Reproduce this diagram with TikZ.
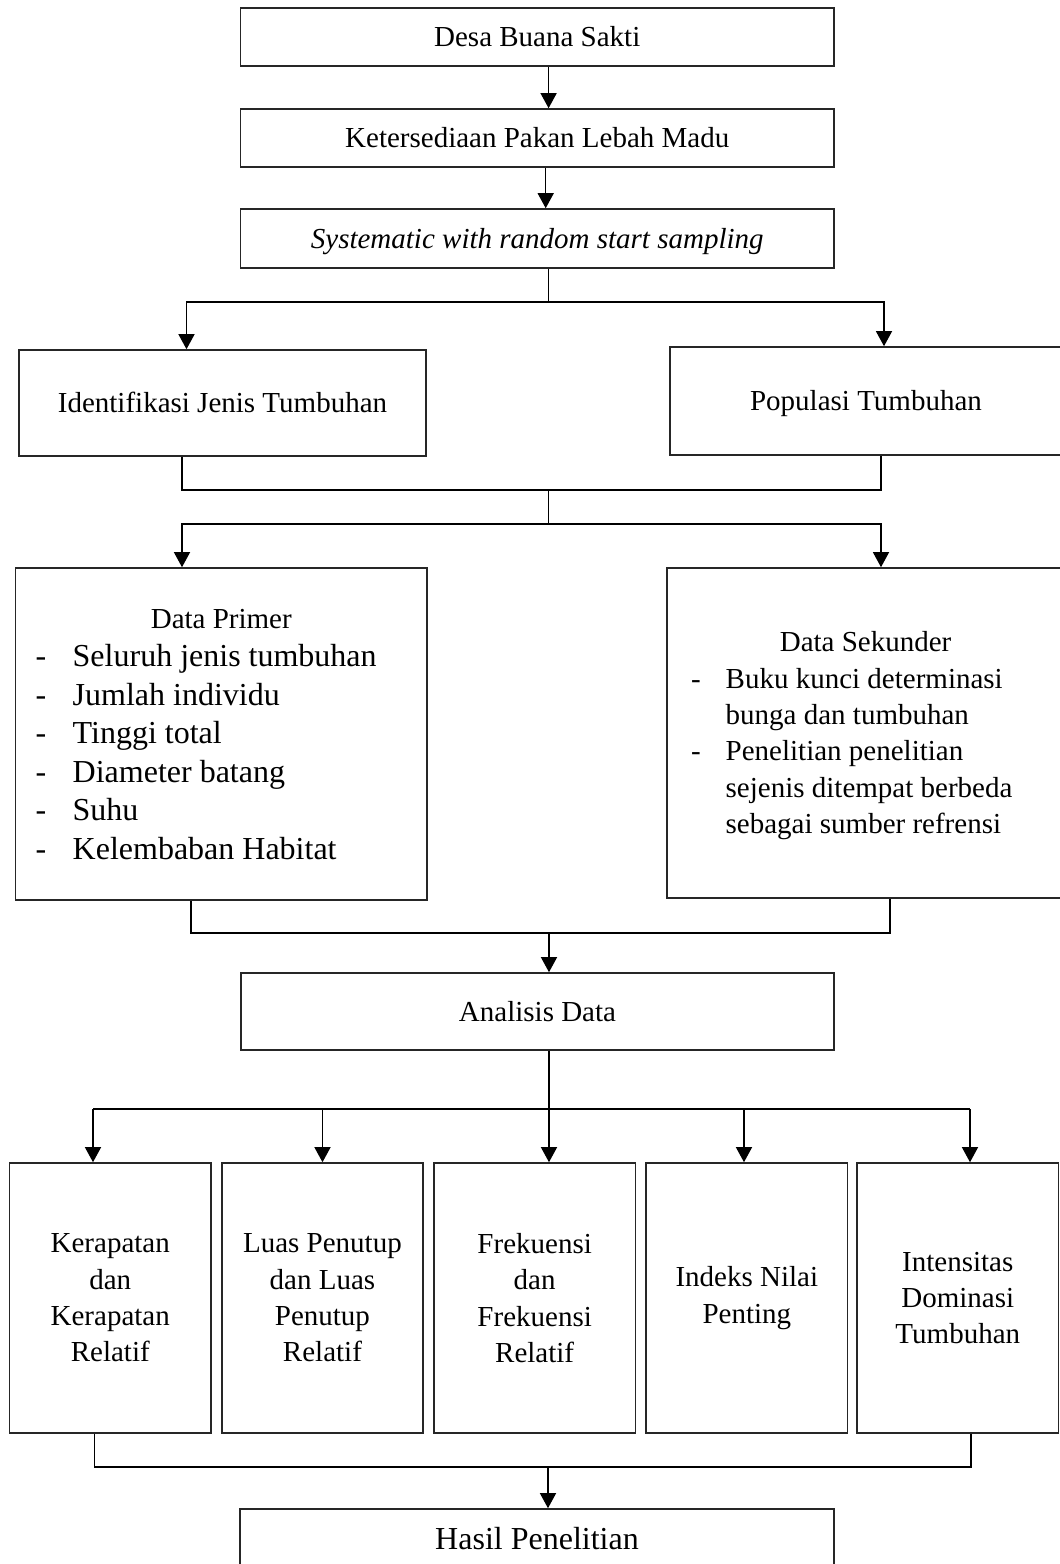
\documentclass[tikz,border=0pt]{standalone}
\usepackage{fontspec}
\setmainfont{Liberation Serif}
\usetikzlibrary{arrows.meta}
\begin{document}
\begin{tikzpicture}[x=1pt,y=-1pt,
  box/.style={draw=black!85, line width=1.6pt, inner sep=0pt, align=center,
    font=\fontsize{29}{36.3}\selectfont, text height=19.5pt, text depth=0pt},
  kbox/.style={draw=black!85, line width=1.6pt, inner sep=0pt, align=center,
    font=\fontsize{29}{36.3}\selectfont, minimum width=201.5pt, minimum height=270pt},
  conn/.style={line width=1.3pt, black},
  arr/.style={conn, -{Triangle[width=16pt,length=15pt]}},
  txt/.style={inner sep=0pt, anchor=base west, font=\fontsize{29}{36.3}\selectfont},
  bigtxt/.style={inner sep=0pt, anchor=base west, font=\fontsize{32}{38.5}\selectfont},
  head/.style={inner sep=0pt, anchor=base, font=\fontsize{29}{36.3}\selectfont}
]
\useasboundingbox (0,0) rectangle (1060,1564);

% top column
\node[box, minimum width=593.5pt, minimum height=58pt] (b1) at (537.25,37) {Desa Buana Sakti};
\node[box, minimum width=593.5pt, minimum height=58pt] (b2) at (537.25,138) {Ketersediaan Pakan Lebah Madu};
\node[box, minimum width=593.5pt, minimum height=59pt] (b3) at (537.25,238.5) {\textit{Systematic with random start sampling}};

\node[box, minimum width=407pt, minimum height=106pt] (idf) at (222.5,403) {Identifikasi Jenis Tumbuhan};
\node[box, minimum width=392pt, minimum height=108pt] (pop) at (866,401) {Populasi Tumbuhan};

% data boxes
\node[draw=black!85, line width=1.6pt, inner sep=0pt, minimum width=411.4pt, minimum height=332pt] (dp) at (221.3,734) {};
\node[draw=black!85, line width=1.6pt, inner sep=0pt, minimum width=395pt, minimum height=330pt] (ds) at (864.5,733) {};

\node[head] (dph) at (221.3,628) {Data Primer};
\node[bigtxt] (dpd1) at (35.3,666.5) {-};
\node[bigtxt] (dpt1) at (72.5,666.5) {Seluruh jenis tumbuhan};
\node[bigtxt] (dpd2) at (35.3,705) {-};
\node[bigtxt] (dpt2) at (72.5,705) {Jumlah individu};
\node[bigtxt] (dpd3) at (35.3,743.5) {-};
\node[bigtxt] (dpt3) at (72.5,743.5) {Tinggi total};
\node[bigtxt] (dpd4) at (35.3,782) {-};
\node[bigtxt] (dpt4) at (72.5,782) {Diameter batang};
\node[bigtxt] (dpd5) at (35.3,820.5) {-};
\node[bigtxt] (dpt5) at (72.5,820.5) {Suhu};
\node[bigtxt] (dpd6) at (35.3,859) {-};
\node[bigtxt] (dpt6) at (72.5,859) {Kelembaban Habitat};

\node[head] (dsh) at (865.6,651.7) {Data Sekunder};
\node[txt] (dsd1) at (690.8,688) {-};
\node[txt] (dst1) at (725.5,688) {Buku kunci determinasi};
\node[txt] (dst2) at (725.5,724.3) {bunga dan tumbuhan};
\node[txt] (dsd3) at (690.8,760.6) {-};
\node[txt] (dst3) at (725.5,760.6) {Penelitian penelitian};
\node[txt] (dst4) at (725.5,797) {sejenis ditempat berbeda};
\node[txt] (dst5) at (725.5,833.3) {sebagai sumber refrensi};

\node[box, minimum width=593pt, minimum height=77pt] (ana) at (537.5,1011.5) {Analisis Data};

% bottom boxes
\node[kbox] (k1) at (110.25,1298) {Kerapatan\\dan\\Kerapatan\\Relatif};
\node[kbox] (k2) at (322.45,1298) {Luas Penutup\\dan Luas\\Penutup\\Relatif};
\node[kbox] (k3) at (534.65,1298) {Frekuensi\\dan\\Frekuensi\\Relatif};
\node[kbox] (k4) at (746.85,1298) {Indeks Nilai\\Penting};
\node[kbox] (k5) at (957.8,1298) {Intensitas\\Dominasi\\Tumbuhan};

\node[box, minimum width=594pt, minimum height=81pt, font=\fontsize{32}{38}\selectfont,
  text height=10pt, text depth=10pt] (hasil) at (537,1549.5) {Hasil Penelitian};

% connectors
\coordinate (c1) at (548.6,0);
\coordinate (c2) at (545.7,0);
\draw[arr] (b1.south -| c1) -- (b2.north -| c1);
\draw[arr] (b2.south -| c2) -- (b3.north -| c2);

\coordinate (j1) at (548.6,302);
\coordinate (j1L) at (186.5,302);
\coordinate (j1R) at (884,302);
\draw[conn] (b3.south -| j1) -- (j1);
\draw[arr] (j1) -- (j1L) -- (j1L |- idf.north);
\draw[arr] (j1) -- (j1R) -- (j1R |- pop.north);

\coordinate (j2L) at (182,490);
\coordinate (j2R) at (881,490);
\coordinate (j2) at (548.5,490);
\draw[conn] (idf.south -| j2L) -- (j2L) -- (j2R) -- (pop.south -| j2R);
\coordinate (j3) at (548.5,524);
\coordinate (j3L) at (182,524);
\coordinate (j3R) at (881,524);
\draw[conn] (j2) -- (j3);
\draw[arr] (j3) -- (j3L) -- (j3L |- dp.north);
\draw[arr] (j3) -- (j3R) -- (j3R |- ds.north);

\coordinate (j4L) at (191,933);
\coordinate (j4R) at (890,933);
\coordinate (j4) at (549,933);
\draw[conn] (dp.south -| j4L) -- (j4L) -- (j4R) -- (ds.south -| j4R);
\draw[arr] (j4) -- (ana.north -| j4);

\coordinate (j5) at (549,1109);
\coordinate (a1) at (93,1109);
\coordinate (a2) at (322.5,1109);
\coordinate (a4) at (744,1109);
\coordinate (a5) at (970,1109);
\draw[conn] (ana.south -| j5) -- (j5);
\draw[conn] (a1) -- (a5);
\draw[arr] (a1) -- (a1 |- k1.north);
\draw[arr] (a2) -- (a2 |- k2.north);
\draw[arr] (j5) -- (j5 |- k3.north);
\draw[arr] (a4) -- (a4 |- k4.north);
\draw[arr] (a5) -- (a5 |- k5.north);

\coordinate (j6L) at (94.6,1467);
\coordinate (j6R) at (971,1467);
\coordinate (j6) at (548,1467);
\draw[conn] (k1.south -| j6L) -- (j6L) -- (j6R) -- (k5.south -| j6R);
\draw[arr] (j6) -- (hasil.north -| j6);
\end{tikzpicture}
\end{document}
